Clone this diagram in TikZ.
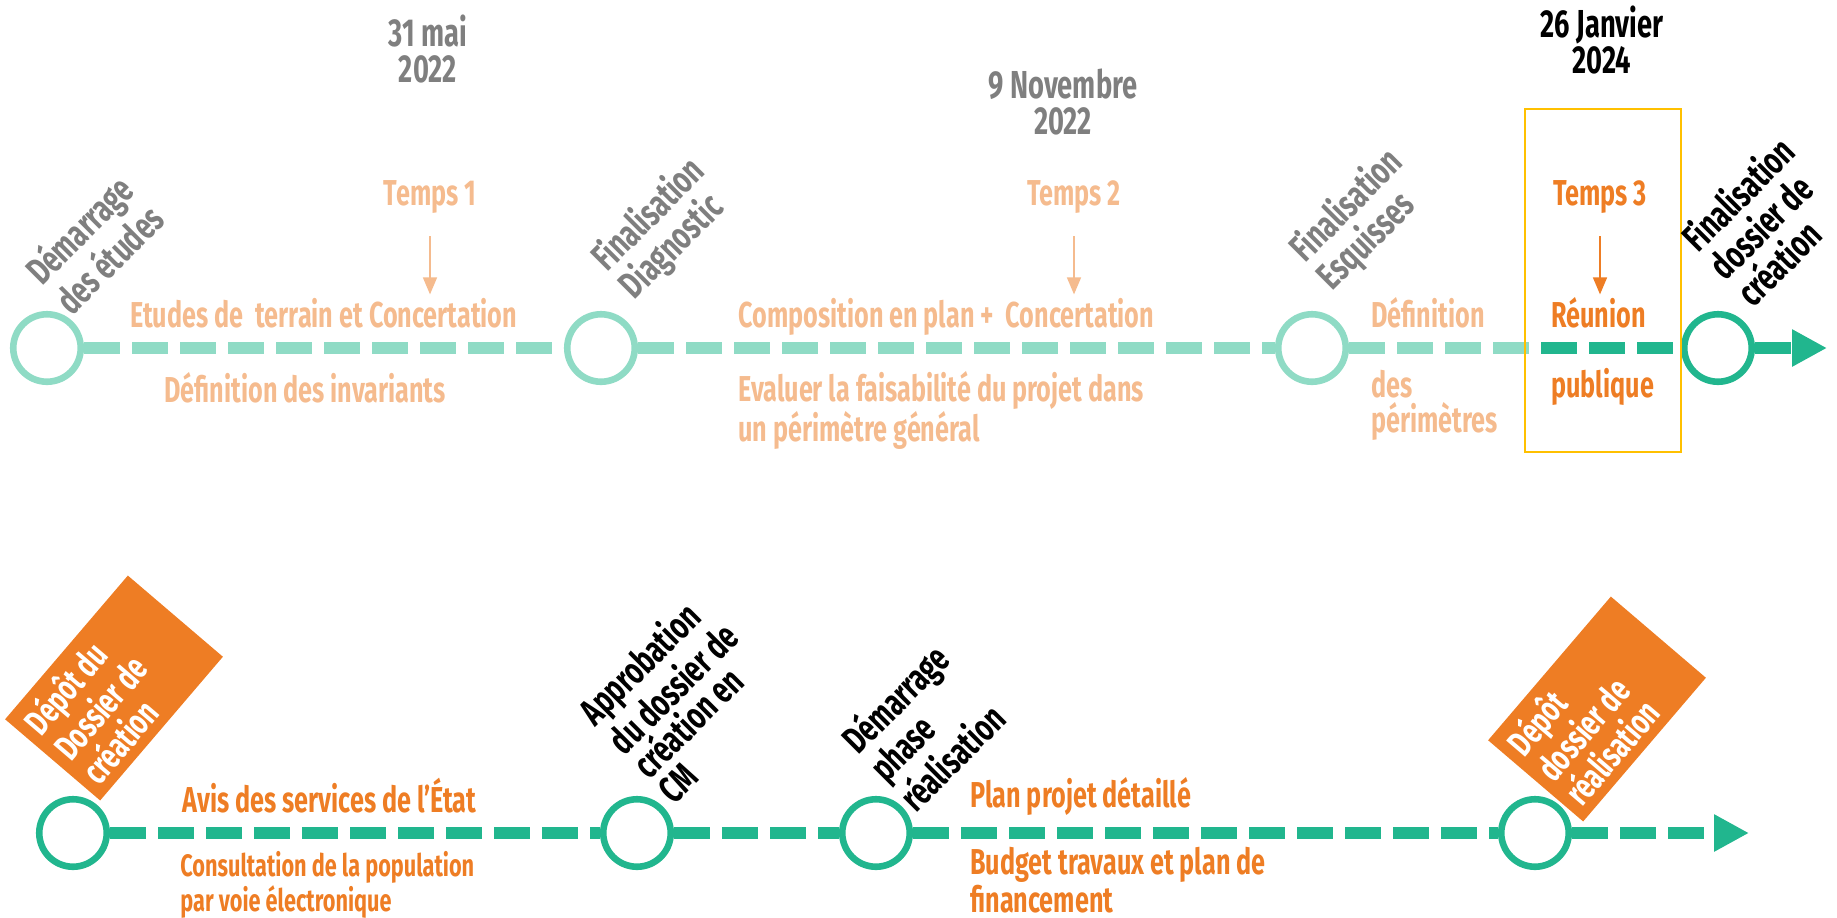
\documentclass[tikz,border=0pt]{standalone}
\usepackage{fontspec}
\setmainfont{Fira Sans}[FakeStretch=0.70]
\usetikzlibrary{arrows.meta,positioning}
\definecolor{vertclair}{RGB}{143,219,197}
\definecolor{vertfonce}{RGB}{33,182,142}
\definecolor{pale}{RGB}{245,187,142}
\definecolor{vif}{RGB}{238,125,36}
\definecolor{gris}{RGB}{127,127,127}
\definecolor{jaune}{RGB}{255,192,0}

\begin{document}
\begin{tikzpicture}[x=0.5pt,y=-0.5pt,
  jalon/.style={circle,draw=#1,line width=3.3pt,minimum size=33.75pt,inner sep=0pt,fill=white},
  trait/.style={draw=#1,line width=6pt,dash pattern=on 18pt off 6pt},
  pointe/.style={-{Triangle[length=17.5pt,width=17.5pt]}},
  fleche/.style={draw=#1,line width=0.75pt,-{Triangle[length=8.5pt,width=7pt]}},
  txt/.style={inner sep=0pt,text=#1,font=\fontsize{18}{17.5}\selectfont\bfseries},
  jour/.style={inner sep=0pt,text=#1,align=center,font=\fontsize{19.5}{18}\selectfont\bfseries},
  etape/.style={inner sep=0pt,text=#1,align=left,rotate=45,anchor=west,font=\fontsize{19}{19.5}\selectfont\bfseries},
  depot/.style={fill=vif,text=white,rotate=49.5,align=flush left,text width=84.5pt,inner xsep=5pt,inner ysep=0pt,
    minimum height=62.5pt,font=\fontsize{18}{18.5}\selectfont\bfseries}]
 \useasboundingbox (0,0) rectangle (1837,917);
 % jalons
 \node[jalon=vertclair] (c1) at (47,348) {};
 \node[jalon=vertclair] (c2) at (601,348) {};
 \node[jalon=vertclair] (c3) at (1312,348) {};
 \node[jalon=vertfonce] (c4) at (1718,348) {};
 \coordinate (fin1) at (1827,348);
 \node[jalon=vertfonce] (c5) at (73,833) {};
 \node[jalon=vertfonce] (c6) at (637,833) {};
 \node[jalon=vertfonce] (c7) at (876,833) {};
 \node[jalon=vertfonce] (c8) at (1535,833) {};
 \coordinate (fin2) at (1749,833);
 % ligne du haut
 \draw[trait=vertclair] (c1) -- (c2);
 \draw[trait=vertclair] (c2) -- (c3);
 \begin{scope}
  \clip (0,0) rectangle (1537,917);
  \draw[trait=vertclair] (c3) -- (c4);
 \end{scope}
 \begin{scope}
  \clip (1537,0) rectangle (1837,917);
  \draw[trait=vertfonce] (c3) -- (c4);
 \end{scope}
 \draw[trait=vertfonce,pointe] (c4) -- (fin1);
 % ligne du bas
 \draw[trait=vertfonce] (c5) -- (c6);
 \draw[trait=vertfonce] (c6) -- (c7);
 \draw[trait=vertfonce] (c7) -- (c8);
 \draw[trait=vertfonce,pointe] (c8) -- (fin2);
 \node[draw=jaune,line width=1pt,minimum width=78pt,minimum height=171.5pt,inner sep=0pt] (cadre) at (1603,280.5) {};
 % dates
 \node[jour=gris,anchor=north] (d1) at (428,14) {31 mai\\2022};
 \node[jour=gris,anchor=north] (d2) at (1063,68) {9 Novembre\\2022};
 \node[jour=black,anchor=north] (d3) at (1602,5) {26 Janvier\\2024};
 % temps
 \node[txt=pale,anchor=base] (t1) at (430,205) {Temps 1};
 \node[txt=pale,anchor=base] (t2) at (1074,205) {Temps 2};
 \node[txt=vif,anchor=base] (t3) at (1600,205) {Temps 3};
 \draw[fleche=pale] (t1.south) ++(0,23) -- ++(0,58);
 \draw[fleche=pale] (t2.south) ++(0,23) -- ++(0,58);
 \draw[fleche=vif] (t3.south) ++(0,23) -- ++(0,58);
 % textes du haut
 \node[txt=pale,anchor=base west] (e1) at (130,327) {Etudes de\ \ terrain et Concertation};
 \node[txt=pale,anchor=base west] (e2) at (164,402) {Définition des invariants};
 \node[txt=pale,anchor=base west] (e3) at (738,327) {Composition en plan +\ \ Concertation};
 \node[txt=pale,anchor=north west,align=left] (e4) at (738,371) {Evaluer la faisabilité du projet dans\\un périmètre général};
 \node[txt=pale,anchor=base west] (e5) at (1371,327) {Définition};
 \node[txt=pale,anchor=north west,align=left] (e6) at (1371,370) {des\\périmètres};
 \node[txt=vif,anchor=base west] (e7) at (1551,327) {Réunion};
 \node[txt=vif,anchor=base west] (e8) at (1551,397) {publique};
 % etapes
 \node[etape=gris] (l1) at (46,291) {Démarrage\\des études};
 \node[etape=gris] (l2) at (613,279) {Finalisation\\Diagnostic};
 \node[etape=gris] (l3) at (1311,270) {Finalisation\\Esquisses};
 \node[etape=black] (l4) at (1715,271) {Finalisation\\dossier de\\création};
 \node[etape=black,font=\fontsize{19}{17.5}\selectfont\bfseries] (l6) at (624,756) {Approbation\\du dossier de\\création en\\CM};
 \node[etape=black,font=\fontsize{19}{18.5}\selectfont\bfseries] (l7) at (876,774) {Démarrage\\phase\\réalisation};
 % depots
 \node[depot] (b1) at (114,688) {Dépôt du\\Dossier de\\création};
 \node[depot] (b2) at (1597,709) {Dépôt\\dossier de\\réalisation};
 % textes du bas
 \node[txt=vif,anchor=base west] (f1) at (182,812) {Avis des services de l’État};
 \node[txt=vif,anchor=north west,align=left,font=\fontsize{15.5}{14}\selectfont\bfseries] (f2) at (180,851) {Consultation de la population\\par voie électronique};
 \node[txt=vif,anchor=base west] (f3) at (970,807) {Plan projet détaillé};
 \node[txt=vif,anchor=north west,align=left,font=\fontsize{18}{16}\selectfont\bfseries] (f4) at (970,847) {Budget travaux et plan de\\financement};
\end{tikzpicture}
\end{document}
